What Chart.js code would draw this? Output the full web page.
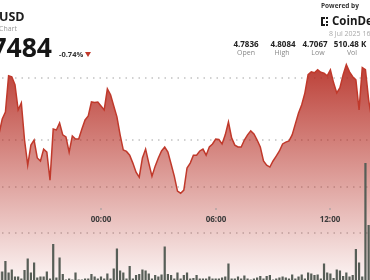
<!DOCTYPE html>
<html>
<head>
<meta charset="utf-8">
<script src="https://cdn.jsdelivr.net/npm/chart.js@4.4.1/dist/chart.umd.min.js"></script>
<style>
  html, body { margin: 0; padding: 0; background: #fff; }
  #wrap { position: relative; width: 370px; height: 280px; overflow: hidden; font-family: "Open Sans", "Noto Sans", sans-serif; }
  #wrap canvas { position: absolute; left: 0; top: 0; }
  .t { position: absolute; white-space: nowrap; line-height: 1; }
  .c { text-align: center; width: 50px; }
</style>
</head>
<body>
<div id="wrap">
  <canvas id="myChart" width="370" height="280"></canvas>

  <div class="t" style="left:-1px;top:11px;font-size:12.5px;font-weight:700;color:#1d1d1d">USD</div>
  <div class="t" style="left:-1px;top:24.5px;font-size:7px;color:#999">Chart</div>
  <div class="t" style="right:318px;top:33.5px;font-size:26.5px;font-weight:700;color:#161616">4.7484</div>
  <div class="t" style="left:59px;top:50.5px;font-size:7.5px;font-weight:700;color:#333">-0.74%</div>
  <div style="position:absolute;left:85px;top:52px;width:0;height:0;border-left:3.5px solid transparent;border-right:3.5px solid transparent;border-top:5.5px solid #c0392b"></div>

  <div class="t" style="left:321px;top:3px;font-size:6.5px;font-weight:700;color:#333">Powered by</div>
  <svg style="position:absolute;left:321px;top:17px" width="9" height="9" viewBox="0 0 9 9">
    <rect x="0" y="0" width="2" height="9" fill="#1a1a1a"/>
    <rect x="0" y="0" width="4" height="2" fill="#1a1a1a"/>
    <rect x="0" y="7" width="4" height="2" fill="#1a1a1a"/>
    <rect x="5" y="0" width="2" height="2" fill="#1a1a1a"/>
    <rect x="5" y="4" width="2" height="2" fill="#1a1a1a"/>
    <rect x="5" y="7" width="2" height="2" fill="#1a1a1a"/>
  </svg>
  <div class="t" style="left:332px;top:14.8px;font-size:11.5px;font-weight:700;color:#1a1a1a">CoinDesk</div>
  <div class="t" style="left:329px;top:30px;font-size:7px;color:#aaa">8 Jul 2025 16:</div>

  <div class="t c" style="left:221px;top:39.6px;font-size:8px;font-weight:700;color:#222">4.7836</div>
  <div class="t c" style="left:258px;top:39.6px;font-size:8px;font-weight:700;color:#222">4.8084</div>
  <div class="t c" style="left:290px;top:39.6px;font-size:8px;font-weight:700;color:#222">4.7067</div>
  <div class="t c" style="left:325px;top:39.6px;font-size:8px;font-weight:700;color:#222">510.48 K</div>
  <div class="t c" style="left:221px;top:49px;font-size:7px;color:#888">Open</div>
  <div class="t c" style="left:257px;top:49px;font-size:7px;color:#888">High</div>
  <div class="t c" style="left:293px;top:49px;font-size:7px;color:#888">Low</div>
  <div class="t c" style="left:327px;top:49px;font-size:7px;color:#888">Vol</div>
</div>
<script>
// 10-minute candles, first one at 18:40 the previous day (minutes relative to 00:00)
const startMinute = -320;
const stepMinutes = 10;

const price = [
  4.7426, 4.7490, 4.7520, 4.7675, 4.7671, 4.7637, 4.7529, 4.7559, 4.7400, 4.7292,
  4.7378, 4.7400, 4.7323, 4.7310, 4.7361, 4.7348, 4.7228, 4.7447, 4.7443, 4.7473,
  4.7422, 4.7413, 4.7348, 4.7417, 4.7404, 4.7404, 4.7447, 4.7486, 4.7503, 4.7563,
  4.7561, 4.7563, 4.7546, 4.7529, 4.7619, 4.7594, 4.7546, 4.7499, 4.7422, 4.7357,
  4.7351, 4.7335, 4.7301, 4.7262, 4.7241, 4.7323, 4.7361, 4.7301, 4.7245, 4.7288,
  4.7323, 4.7353, 4.7370, 4.7348, 4.7297, 4.7245, 4.7181, 4.7172, 4.7185, 4.7280,
  4.7301, 4.7335, 4.7335, 4.7353, 4.7361, 4.7335, 4.7370, 4.7383, 4.7404, 4.7402,
  4.7383, 4.7422, 4.7477, 4.7409, 4.7378, 4.7370, 4.7370, 4.7400, 4.7422, 4.7439,
  4.7426, 4.7400, 4.7370, 4.7310, 4.7292, 4.7284, 4.7310, 4.7331, 4.7353, 4.7383,
  4.7391, 4.7396, 4.7422, 4.7469, 4.7516, 4.7551, 4.7602, 4.7680, 4.7692, 4.7688,
  4.7701, 4.7690, 4.7686, 4.7675, 4.7701, 4.7645, 4.7602, 4.7624, 4.7680, 4.7723,
  4.7692, 4.7671, 4.7658, 4.7529, 4.7710, 4.7701, 4.7572, 4.7486
];

// volume per candle, in K
const volume = [
  17, 17, 38, 15, 21, 7, 7, 3, 20, 43,
  15, 35, 5, 7, 7, 17, 3, 72, 5, 45,
  12, 1, 3, 1, 15, 1, 1, 3, 3, 12,
  7, 3, 7, 3, 13, 3, 23, 63, 19, 15,
  3, 28, 3, 10, 12, 21, 19, 13, 3, 10,
  7, 11, 67, 12, 10, 3, 15, 3, 10, 15,
  3, 4, 10, 3, 3, 3, 7, 3, 3, 3,
  5, 7, 33, 3, 3, 7, 3, 9, 3, 1,
  3, 5, 8, 3, 8, 10, 1, 3, 5, 7,
  5, 3, 11, 3, 7, 11, 3, 15, 13, 10,
  11, 3, 33, 15, 13, 4, 21, 19, 8, 15,
  7, 10, 62, 35, 7, 234, 110, 60
];

const tickMinutes = [0, 360, 720];
const tickLabels = ['00:00', '06:00', '12:00'];
const gridValues = [4.70, 4.72, 4.74, 4.7667];

const minutes = price.map((_, i) => startMinute + i * stepMinutes);

const overlay = {
  id: 'overlay',
  beforeDatasetsDraw(chart) {
    const { ctx, chartArea, scales } = chart;
    ctx.save();
    ctx.strokeStyle = '#c2c2c2';
    ctx.lineWidth = 1.5;
    ctx.setLineDash([1.5, 5]);
    gridValues.forEach(v => {
      const y = Math.round(scales.y.getPixelForValue(v));
      ctx.beginPath();
      ctx.moveTo(chartArea.left + 2, y);
      ctx.lineTo(chartArea.right, y);
      ctx.stroke();
    });
    ctx.restore();
  },
  afterDatasetsDraw(chart) {
    const { ctx, scales } = chart;
    ctx.save();
    ctx.font = '700 8px "Open Sans"';
    ctx.textAlign = 'center';
    ctx.textBaseline = 'middle';
    tickMinutes.forEach((m, k) => {
      const x = Math.round(scales.x.getPixelForValue(m));
      ctx.fillStyle = '#9a9a9a';
      ctx.fillRect(x - 0.5, 208, 1, 2);
      ctx.fillStyle = '#3a3a3a';
      ctx.fillText(tickLabels[k], x, 219.5);
    });
    ctx.restore();
  }
};

const ctx = document.getElementById('myChart').getContext('2d');
const chart = new Chart(ctx, {
  type: 'line',
  data: {
    datasets: [{
      type: 'line',
      label: 'Price',
      data: minutes.map((m, i) => ({ x: m, y: price[i] })),
      borderColor: '#c0392b',
      borderWidth: 1.5,
      pointRadius: 0,
      tension: 0,
      fill: 'start',
      order: 2,
      backgroundColor: (c) => {
        const area = c.chart.chartArea;
        if (!area) return 'rgba(0,0,0,0)';
        const g = c.chart.ctx.createLinearGradient(0, 62, 0, area.bottom);
        g.addColorStop(0, 'rgba(180,40,30,0.9)');
        g.addColorStop(1, 'rgba(180,40,30,0.05)');
        return g;
      },
      yAxisID: 'y'
    }, {
      type: 'bar',
      label: 'Volume',
      data: minutes.map((m, i) => ({ x: m, y: volume[i] })),
      backgroundColor: '#575e57',
      barPercentage: 1,
      categoryPercentage: 0.7,
      order: 1,
      yAxisID: 'yv'
    }]
  },
  options: {
    responsive: false,
    devicePixelRatio: 1,
    animation: false,
    layout: { padding: 0 },
    plugins: { legend: { display: false }, tooltip: { enabled: false } },
    scales: {
      x: { type: 'linear', min: -317, max: 844.3, offset: false, display: false },
      y: { min: 4.68, max: 4.80, display: false },
      yv: { min: 0, max: 560, display: false }
    }
  },
  plugins: [overlay]
});
</script>
</body>
</html>
